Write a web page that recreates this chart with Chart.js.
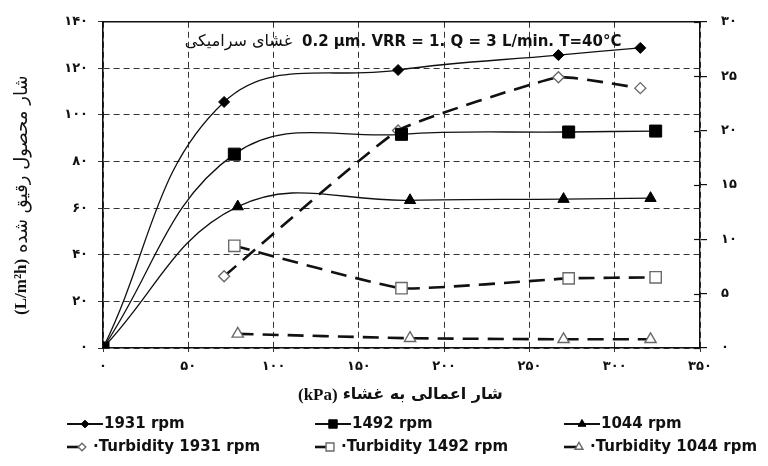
<!DOCTYPE html>
<html><head><meta charset="utf-8">
<script src="https://cdn.jsdelivr.net/npm/chart.js@4.4.1/dist/chart.umd.min.js"></script>
<style>html,body{margin:0;padding:0;background:#fff}canvas{display:block}</style>
</head><body>
<canvas id="c" width="768" height="466"></canvas>
<script>
// ---- data ----
const pressure1931 = [0, 71, 173, 267, 315];
const flux1931     = [0, 105.6, 119.3, 125.7, 128.8];
const pressure1492 = [0, 77, 175, 273, 324];
const flux1492     = [0, 83.2, 91.7, 92.7, 93.1];
const pressure1044 = [0, 79, 180, 270, 321];
const flux1044     = [0, 60.7, 63.4, 63.9, 64.3];

const turbPressure1931 = [71, 173, 267, 315];
const turbidity1931    = [6.6, 20.0, 24.9, 23.9];
const turbPressure1492 = [77, 175, 273, 324];
const turbidity1492    = [9.4, 5.5, 6.4, 6.5];
const turbPressure1044 = [79, 180, 270, 321];
const turbidity1044    = [1.3, 0.9, 0.8, 0.8];

const xTicks    = [0, 50, 100, 150, 200, 250, 300, 350];
const fluxTicks = [0, 20, 40, 60, 80, 100, 120, 140];
const turbTicks = [0, 5, 10, 15, 20, 25, 30];

const seriesLabels = ['1931 rpm', '1492 rpm', '1044 rpm',
  '·Turbidity 1931 rpm', '·Turbidity 1492 rpm', '·Turbidity 1044 rpm'];

const titlePersian = 'غشای سرامیکی';
const titleLatin   = '0.2 µm. VRR = 1. Q = 3 L/min. T=40°C';
const xTitleUnit   = '(kPa)';
const xTitleText   = 'شار اعمالی به غشاء';
const yTitleUnit   = '(L/m²h)';
const yTitleText   = 'شار محصول رقیق شده';

// ---- helpers ----
const faDigits = '۰۱۲۳۴۵۶۷۸۹';
const toFa = v => String(v).replace(/[0-9]/g, d => faDigits[+d]);
const pts = (xs, ys) => xs.map((x, i) => ({x, y: ys[i]}));

const INK = '#111';
const solid = (label, xs, ys, style, r) => ({
  label, data: pts(xs, ys), yAxisID: 'y',
  borderColor: INK, borderWidth: 1.3, tension: 0.4,
  pointStyle: style, pointRadius: r, pointHoverRadius: r,
  pointBackgroundColor: '#000', pointBorderColor: '#000', pointBorderWidth: 1
});
const dashed = (label, xs, ys, style, r) => ({
  label, data: pts(xs, ys), yAxisID: 'y2',
  borderColor: INK, borderWidth: 2.6, borderDash: [16, 9], tension: 0.12,
  pointStyle: style, pointRadius: r, pointHoverRadius: r,
  pointBackgroundColor: '#fff', pointBorderColor: '#6a6a6a', pointBorderWidth: 1.4
});

const datasets = [
  solid(seriesLabels[0], pressure1931, flux1931, 'rectRot', 5.5),
  solid(seriesLabels[1], pressure1492, flux1492, 'rect', 8.5),
  solid(seriesLabels[2], pressure1044, flux1044, 'triangle', 6.5),
  dashed(seriesLabels[3], turbPressure1931, turbidity1931, 'rectRot', 5.5),
  dashed(seriesLabels[4], turbPressure1492, turbidity1492, 'rect', 8),
  dashed(seriesLabels[5], turbPressure1044, turbidity1044, 'triangle', 6.5)
];

const tickFont = {family: 'DejaVu Sans', weight: 'bold', size: 13};
const gridDash = [6, 4];

function drawMarker(ctx, ds, x, y, scale) {
  const opts = {pointStyle: ds.pointStyle, radius: ds.pointRadius * scale,
    rotation: 0, borderWidth: ds.pointBorderWidth};
  ctx.save();
  ctx.fillStyle = ds.pointBackgroundColor;
  ctx.strokeStyle = ds.pointBorderColor;
  ctx.lineWidth = ds.pointBorderWidth;
  Chart.helpers.drawPoint(ctx, opts, x, y);
  ctx.restore();
}

const decor = {
  id: 'decor',
  afterDraw(chart) {
    const ctx = chart.ctx;
    const ca = chart.chartArea;
    const y2 = chart.scales.y2;
    ctx.save();
    // inward tick marks on the right axis
    ctx.strokeStyle = INK; ctx.lineWidth = 1.2;
    y2.ticks.forEach(t => {
      const py = Math.round(y2.getPixelForValue(t.value)) + 0.5;
      ctx.beginPath(); ctx.moveTo(ca.right - 6, py); ctx.lineTo(ca.right, py); ctx.stroke();
    });

    ctx.fillStyle = INK;
    ctx.textBaseline = 'middle';
    // in-plot title
    ctx.font = 'bold 15px "DejaVu Sans"';
    ctx.textAlign = 'left';
    ctx.fillText(titleLatin, 302, 42);
    ctx.font = '16px "DejaVu Sans"';
    ctx.textAlign = 'right';
    ctx.fillText(titlePersian, 292, 42);

    // x title
    ctx.textAlign = 'left';
    ctx.font = 'bold 17px "Liberation Serif"';
    ctx.fillText(xTitleUnit, 298, 396);
    const uw = ctx.measureText(xTitleUnit).width;
    ctx.font = 'bold 16px "DejaVu Sans"';
    ctx.fillText(xTitleText, 298 + uw + 5, 395);

    // y title (rotated)
    ctx.save();
    ctx.translate(22, 0);
    ctx.rotate(-Math.PI / 2);
    ctx.textAlign = 'left';
    ctx.font = 'bold 17px "Liberation Serif"';
    ctx.fillText(yTitleUnit, -315, 0);
    const yw = ctx.measureText(yTitleUnit).width;
    ctx.font = '18px "DejaVu Sans"';
    ctx.fillText(yTitleText, -315 + yw + 6, 0);
    ctx.restore();

    // legend
    const cols = [67, 315, 564];
    const rows = [424, 447];
    ctx.font = 'bold 15px "DejaVu Sans"';
    ctx.textAlign = 'left';
    chart.data.datasets.forEach((ds, i) => {
      const cx = cols[i % 3], cy = rows[Math.floor(i / 3)];
      ctx.strokeStyle = INK;
      if (i < 3) {
        ctx.lineWidth = 2.2;
        ctx.beginPath(); ctx.moveTo(cx, cy); ctx.lineTo(cx + 36, cy); ctx.stroke();
        drawMarker(ctx, ds, cx + 18, cy, 0.7);
        ctx.fillStyle = INK;
        ctx.fillText(ds.label, cx + 37, cy);
      } else {
        ctx.lineWidth = 2.6;
        ctx.beginPath(); ctx.moveTo(cx, cy); ctx.lineTo(cx + 15, cy); ctx.stroke();
        drawMarker(ctx, ds, cx + 15, cy, 0.7);
        ctx.fillStyle = INK;
        ctx.fillText(ds.label, cx + 26, cy);
      }
    });
    ctx.restore();
  }
};

new Chart(document.getElementById('c'), {
  type: 'line',
  data: {datasets},
  plugins: [decor],
  options: {
    responsive: false, animation: false,
    layout: {padding: {top: 20, left: 0, right: 0, bottom: 0}},
    plugins: {legend: {display: false}, tooltip: {enabled: false}, title: {display: false}},
    scales: {
      x: {
        type: 'linear', position: 'bottom', min: 0, max: 350,
        afterBuildTicks: s => { s.ticks = xTicks.map(v => ({value: v})); },
        afterFit: s => { s.height = 118; },
        ticks: {font: tickFont, color: INK, padding: 7, maxRotation: 0,
          callback: v => toFa(v)},
        grid: {color: '#333', lineWidth: 1, tickLength: 4, drawTicks: true},
        border: {display: true, color: INK, width: 1.6, dash: gridDash}
      },
      xTop: {
        type: 'linear', position: 'top', min: 0, max: 350,
        afterFit: s => { s.height = 0; },
        ticks: {display: false},
        grid: {display: false},
        border: {display: true, color: INK, width: 1.4}
      },
      y: {
        type: 'linear', position: 'left', min: 0, max: 140,
        afterBuildTicks: s => { s.ticks = fluxTicks.map(v => ({value: v})); },
        afterFit: s => { s.width = 103; },
        ticks: {font: tickFont, color: INK, padding: 10, callback: v => toFa(v)},
        grid: {color: '#333', lineWidth: 1, tickLength: 5},
        border: {display: true, color: INK, width: 1.6, dash: gridDash}
      },
      y2: {
        type: 'linear', position: 'right', min: 0, max: 30,
        afterBuildTicks: s => { s.ticks = turbTicks.map(v => ({value: v})); },
        afterFit: s => { s.width = 68; },
        ticks: {font: tickFont, color: INK, padding: 14, callback: v => toFa(v)},
        grid: {drawOnChartArea: false, color: INK, lineWidth: 1.2, tickLength: 7},
        border: {display: true, color: INK, width: 1.4}
      }
    }
  }
});
</script>
</body></html>
